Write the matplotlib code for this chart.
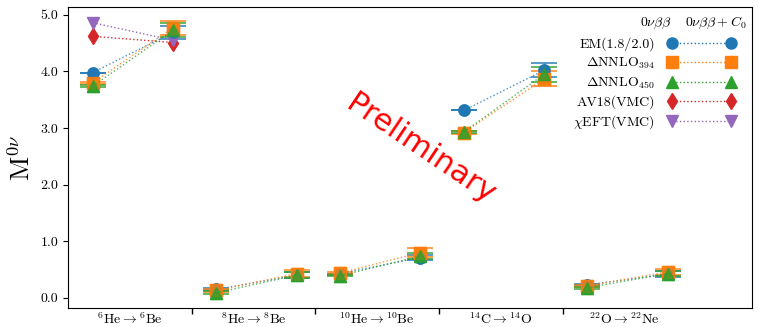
import matplotlib
matplotlib.use('Agg')
import matplotlib.pyplot as plt
from matplotlib.lines import Line2D

plt.rcParams['font.family'] = 'serif'
plt.rcParams['font.serif'] = ['cmr10', 'DejaVu Serif']
plt.rcParams['mathtext.fontset'] = 'cm'
plt.rcParams['axes.formatter.use_mathtext'] = True

# transiciones
labels = [r'$^{6}\mathrm{He}\rightarrow{}^{6}\mathrm{Be}$',
          r'$^{8}\mathrm{He}\rightarrow{}^{8}\mathrm{Be}$',
          r'$^{10}\mathrm{He}\rightarrow{}^{10}\mathrm{Be}$',
          r'$^{14}\mathrm{C}\rightarrow{}^{14}\mathrm{O}$',
          r'$^{22}\mathrm{O}\rightarrow{}^{22}\mathrm{Ne}$']

# 0vbb (sin C0) y 0vbb + C0
em_0 = [3.98, 0.15, 0.43, 3.31, 0.23]
em_0_err = [0.0, 0.02, 0.0, 0.0, 0.01]
em_c = [4.69, 0.40, 0.71, 4.02, 0.42]
em_c_err = [0.12, 0.05, 0.05, 0.125, 0.05]

n394_0 = [3.80, 0.13, 0.44, 2.92, 0.21]
n394_0_err = [0.02, 0.03, 0.02, 0.02, 0.02]
n394_c = [4.77, 0.43, 0.80, 3.87, 0.46]
n394_c_err = [0.125, 0.06, 0.08, 0.13, 0.05]

n450_0 = [3.74, 0.09, 0.39, 2.93, 0.18]
n450_0_err = [0.02, 0.03, 0.01, 0.02, 0.02]
n450_c = [4.73, 0.40, 0.74, 3.95, 0.43]
n450_c_err = [0.12, 0.05, 0.06, 0.13, 0.05]

# VMC solo para 6He
av18 = [4.62, 4.51]
chieft = [4.86, 4.55]

series = [
    ('EM(1.8/2.0)', 'tab:blue', 'o', em_0, em_0_err, em_c, em_c_err),
    (r'$\Delta$NNLO$_{394}$', 'tab:orange', 's', n394_0, n394_0_err, n394_c, n394_c_err),
    (r'$\Delta$NNLO$_{450}$', 'tab:green', '^', n450_0, n450_0_err, n450_c, n450_c_err),
]

dx0, dxc = -0.3, 0.35

fig, ax = plt.subplots(figsize=(7.58, 3.27), dpi=100)
fig.subplots_adjust(left=0.0897, right=0.992, bottom=0.058, top=0.979)

handles = []
for name, col, mk, v0, e0, vc, ec in series:
    for i in range(len(labels)):
        ax.errorbar([i + dx0, i + dxc], [v0[i], vc[i]], yerr=[e0[i], ec[i]],
                    color=col, marker=mk, ms=8, ls=':', lw=1, capsize=9.5,
                    elinewidth=1.0, capthick=1.3, alpha=0.8)
        ax.plot([i + dx0, i + dxc], [v0[i], vc[i]], ls='none', marker=mk, ms=8, color=col)
    handles.append(Line2D([0], [0], color=col, marker=mk, ms=8, ls=':', lw=1, label=name))

for name, col, mk, vals in [('AV18(VMC)', 'tab:red', 'd', av18),
                            (r'$\chi$EFT(VMC)', 'tab:purple', 'v', chieft)]:
    ax.plot([dx0, dxc], vals, color=col, marker=mk, ms=8, ls=':', lw=1)
    handles.append(Line2D([0], [0], color=col, marker=mk, ms=8, ls=':', lw=1, label=name))

ax.set_xlim(-0.5, 5.03)
ax.set_ylim(-0.18, 5.14)
ax.set_xticks(range(len(labels)))
ax.set_xticklabels(labels, fontsize=10)
ax.set_xticks([0.5, 1.5, 2.5, 3.5], minor=True)
ax.tick_params(axis='x', which='major', length=0, pad=2.5)
ax.tick_params(axis='x', which='minor', length=4, width=1)
ax.set_yticks([0, 1, 2, 3, 4, 5])
ax.set_yticklabels(['0.0', '1.0', '2.0', '3.0', '4.0', '5.0'], fontsize=10)
ax.set_ylabel(r'M$^{0\nu}$', fontsize=19)

leg = ax.legend(handles=handles, loc='upper right', bbox_to_anchor=(0.984, 0.917),
                frameon=False, numpoints=2, markerfirst=False, handlelength=4.9,
                labelspacing=0.32, handletextpad=0.9, fontsize=10, borderaxespad=0)
ax.text(0.86, 0.947, r'$0\nu\beta\beta$', transform=ax.transAxes, ha='center', va='center', fontsize=10)
ax.text(0.947, 0.947, r'$0\nu\beta\beta+C_0$', transform=ax.transAxes, ha='center', va='center', fontsize=10)

ax.text(2.35, 2.62, 'Preliminary', color='red', fontsize=22, rotation=-34,
        ha='center', va='center', family='DejaVu Sans')

fig.savefig('out.png', dpi=100)
